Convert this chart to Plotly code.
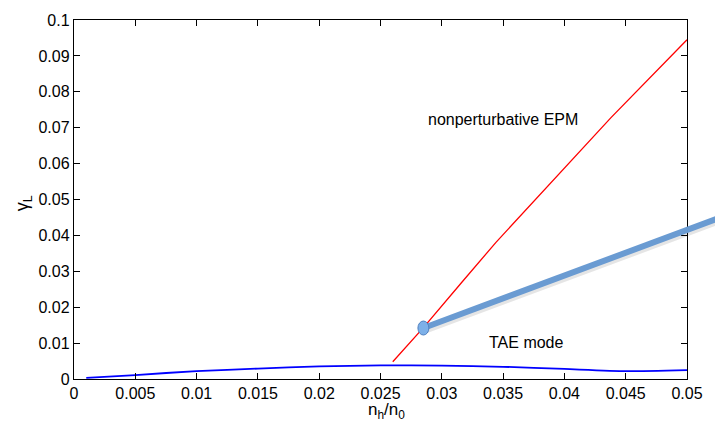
import plotly.graph_objects as go

# --- data ---
tae_x = [0.001, 0.005, 0.01, 0.015, 0.02, 0.025, 0.03, 0.035, 0.04, 0.045, 0.05]
tae_y = [0.0003, 0.0011, 0.0022, 0.0029, 0.0035, 0.0038, 0.0037, 0.0034, 0.0028, 0.0022, 0.0025]

epm_x = [0.026, 0.0285, 0.0316, 0.0344, 0.0438, 0.05]
epm_y = [0.0048, 0.0143, 0.0268, 0.0380, 0.0728, 0.0945]

pointer_x = [0.0285, 0.0525]   # thick pointer line (data units), runs past the axes
pointer_y = [0.0142, 0.0447]

x_range = [0, 0.05]
y_range = [0, 0.1]

label_epm = ("nonperturbative EPM", 0.0350, 0.0723)
label_tae = ("TAE mode", 0.0369, 0.01025)

FONT = "Liberation Sans, Arial, Helvetica, sans-serif"

def to_paper_x(v):
    return (v - x_range[0]) / (x_range[1] - x_range[0])

def to_paper_y(v):
    return (v - y_range[0]) / (y_range[1] - y_range[0])

fig = go.Figure()
fig.add_trace(go.Scatter(x=tae_x, y=tae_y, mode="lines", line=dict(color="#0000ff", width=1.8, shape="spline", smoothing=0.6), showlegend=False, hoverinfo="skip"))
fig.add_trace(go.Scatter(x=epm_x, y=epm_y, mode="lines", line=dict(color="#ff0000", width=1.3), showlegend=False, hoverinfo="skip"))

px0, px1 = to_paper_x(pointer_x[0]), to_paper_x(pointer_x[1])
py0, py1 = to_paper_y(pointer_y[0]), to_paper_y(pointer_y[1])
# soft shadow
fig.add_shape(type="line", xref="paper", yref="paper", x0=px0 + 0.002, y0=py0 - 0.005, x1=px1 + 0.002, y1=py1 - 0.005,
              line=dict(color="rgba(0,0,0,0.10)", width=8), layer="above")
fig.add_shape(type="line", xref="paper", yref="paper", x0=px0, y0=py0, x1=px1, y1=py1,
              line=dict(color="#6a9bd2", width=6), layer="above")
# end bead
fig.add_shape(type="circle", xref="x", yref="y", xsizemode="pixel", ysizemode="pixel",
              xanchor=pointer_x[0], yanchor=pointer_y[0], x0=-5.5, x1=5.5, y0=-7, y1=7,
              fillcolor="#7db0e8", line=dict(color="#4f80c0", width=1), layer="above")

for txt, xx, yy in (label_epm, label_tae):
    fig.add_annotation(x=xx, y=yy, xref="x", yref="y", text=txt, showarrow=False,
                       font=dict(family=FONT, size=16, color="#000"))

fig.add_annotation(x=0.51, y=-0.089, xref="paper", yref="paper", text="n<sub>h</sub>/n<sub>0</sub>",
                   showarrow=False, yanchor="middle", font=dict(family=FONT, size=17, color="#000"))
fig.add_annotation(x=-0.083, y=0.49, xref="paper", yref="paper", text="γ<sub>L</sub>", textangle=-90,
                   showarrow=False, xanchor="center", yanchor="middle", font=dict(family=FONT, size=18, color="#000"))

axis_common = dict(showgrid=False, zeroline=False, showline=True, linecolor="#000", linewidth=1.4,
                   mirror="ticks", ticks="inside", ticklen=6, tickcolor="#000", tickwidth=1,
                   tickfont=dict(family=FONT, size=16, color="#000"))
fig.update_xaxes(range=x_range, dtick=0.005, tick0=0, **axis_common)
fig.update_yaxes(range=y_range, dtick=0.01, tick0=0, **axis_common)

fig.update_layout(width=715, height=422, margin=dict(l=74, r=18, t=15, b=43, pad=0),
                  paper_bgcolor="white", plot_bgcolor="white", font=dict(family=FONT, size=16))

fig.write_html("out.html")
